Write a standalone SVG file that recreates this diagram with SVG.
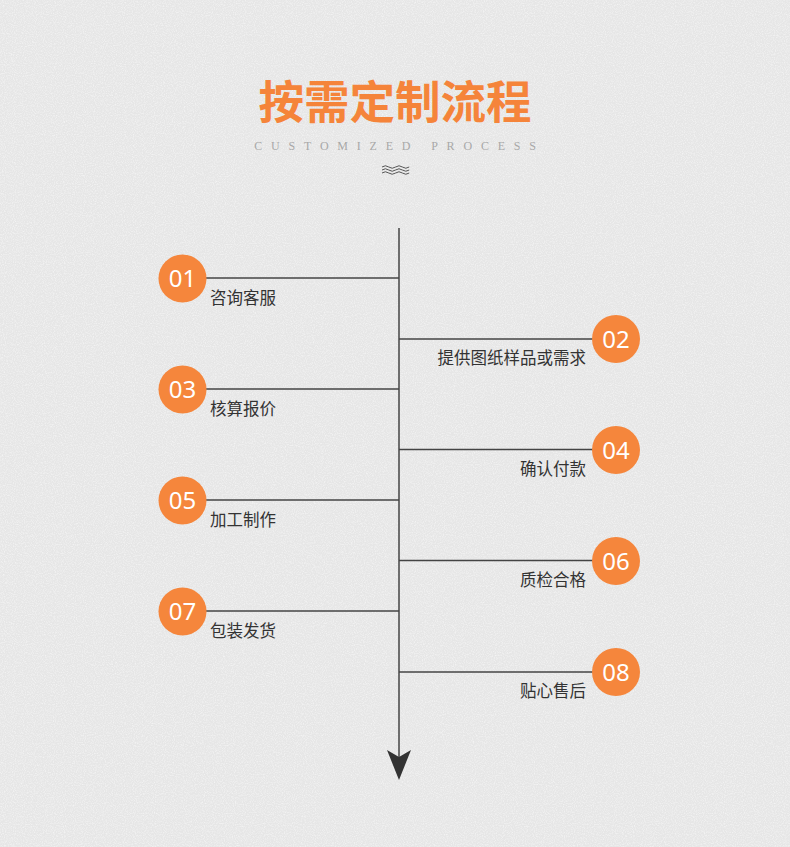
<svg xmlns="http://www.w3.org/2000/svg" width="790" height="847" viewBox="0 0 790 847">
<defs>
<filter id="noise" x="0" y="0" width="100%" height="100%">
<feTurbulence type="fractalNoise" baseFrequency="0.9" numOctaves="2" seed="3" result="t"/>
<feColorMatrix in="t" type="matrix" values="0 0 0 0 0  0 0 0 0 0  0 0 0 0 0  0 0 0 -1.6 0.95" result="a"/>
<feFlood flood-color="#ffffff" result="w"/>
<feComposite in="w" in2="a" operator="in"/>
</filter>
<style>
.num{font-family:"Noto Sans","Open Sans",sans-serif;font-size:24px;fill:#fff;text-anchor:middle;font-weight:400}
.lbl{font-family:"Noto Sans CJK SC","Noto Sans",sans-serif;font-size:16.5px;fill:#333}
.c{fill:#F5863C}
.ln{stroke:#444;stroke-width:1.5;fill:none}
</style>
</defs>
<rect width="790" height="847" fill="#e6e6e6"/>
<rect width="790" height="847" filter="url(#noise)" opacity="0.7"/>
<g id="title">
<text x="395" y="119" text-anchor="middle" font-family="Noto Sans CJK SC, sans-serif" font-weight="700" font-size="45.5" fill="#F5843A">按需定制流程</text>
<text x="399.5" y="150" text-anchor="middle" font-family="Liberation Serif, serif" font-size="12" letter-spacing="8.8" fill="#a8a8a8">CUSTOMIZED PROCESS</text>
<path d="M382,167 q3.4,-2.5 6.8,0 t6.8,0 t6.8,0 t6.8,0 M382,170 q3.4,-2.5 6.8,0 t6.8,0 t6.8,0 t6.8,0 M382,173 q3.4,-2.5 6.8,0 t6.8,0 t6.8,0 t6.8,0" stroke="#555" stroke-width="1" fill="none"/>
</g>
<g id="connectors">
<line class="ln" x1="399" y1="228" x2="399" y2="758"/>
<path d="M387,750 L399,757 L411,750 L399,780 Z" fill="#333"/>
<line class="ln" x1="205" y1="278" x2="399" y2="278"/>
<line class="ln" x1="399" y1="339" x2="593" y2="339"/>
<line class="ln" x1="205" y1="389" x2="399" y2="389"/>
<line class="ln" x1="399" y1="449.5" x2="593" y2="449.5"/>
<line class="ln" x1="205" y1="500" x2="399" y2="500"/>
<line class="ln" x1="399" y1="560.5" x2="593" y2="560.5"/>
<line class="ln" x1="205" y1="611" x2="399" y2="611"/>
<line class="ln" x1="399" y1="672" x2="593" y2="672"/>
</g>
<g id="step01"><circle class="c" cx="182.5" cy="278.5" r="24"/><text class="num" x="182.5" y="287">01</text><text class="lbl" x="210" y="304">咨询客服</text></g>
<g id="step02"><circle class="c" cx="616" cy="339" r="24"/><text class="num" x="616" y="347.5">02</text><text class="lbl" x="586" y="364" text-anchor="end">提供图纸样品或需求</text></g>
<g id="step03"><circle class="c" cx="182.5" cy="389.5" r="24"/><text class="num" x="182.5" y="398">03</text><text class="lbl" x="210" y="415">核算报价</text></g>
<g id="step04"><circle class="c" cx="616" cy="450" r="24"/><text class="num" x="616" y="458.5">04</text><text class="lbl" x="586" y="475" text-anchor="end">确认付款</text></g>
<g id="step05"><circle class="c" cx="182.5" cy="500.5" r="24"/><text class="num" x="182.5" y="509">05</text><text class="lbl" x="210" y="526">加工制作</text></g>
<g id="step06"><circle class="c" cx="616" cy="561" r="24"/><text class="num" x="616" y="569.5">06</text><text class="lbl" x="586" y="586" text-anchor="end">质检合格</text></g>
<g id="step07"><circle class="c" cx="182.5" cy="611.5" r="24"/><text class="num" x="182.5" y="620">07</text><text class="lbl" x="210" y="637">包装发货</text></g>
<g id="step08"><circle class="c" cx="616" cy="672" r="24"/><text class="num" x="616" y="680.5">08</text><text class="lbl" x="586" y="697" text-anchor="end">贴心售后</text></g>
</svg>
